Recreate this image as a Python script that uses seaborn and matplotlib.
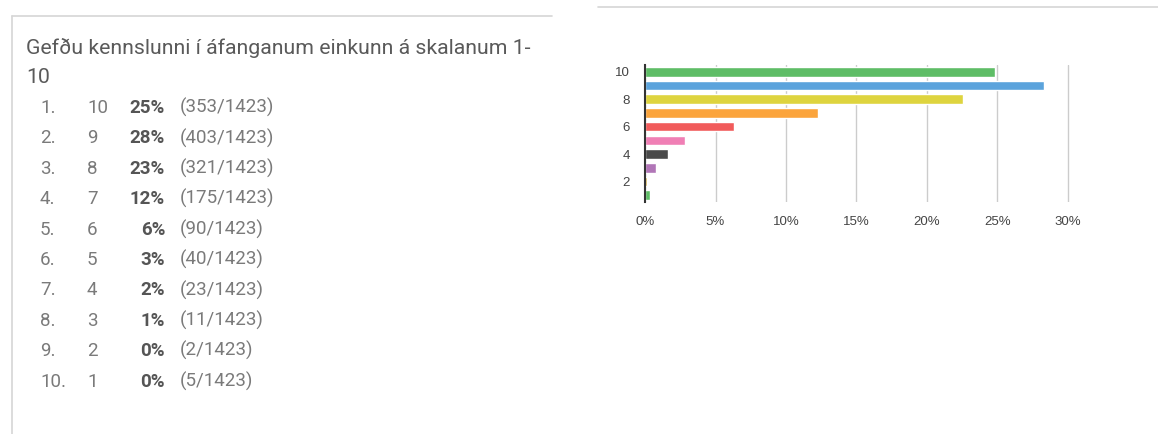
import pandas as pd
import matplotlib.pyplot as plt
import seaborn as sns
from matplotlib.lines import Line2D

# survey answers (grade 10 down to 1)
grades = ["10", "9", "8", "7", "6", "5", "4", "3", "2", "1"]
counts = [353, 403, 321, 175, 90, 40, 23, 11, 2, 5]
percent_labels = ["25%", "28%", "23%", "12%", "6%", "3%", "2%", "1%", "0%", "0%"]
total = 1423
bar_colors = ["#5ebd66", "#5ba3dc", "#ded43f", "#fba43c", "#f15b5b",
              "#f07fb5", "#4a4a4a", "#b176b7", "#d1a838", "#5ebd66"]
x_ticks = [0, 5, 10, 15, 20, 25, 30]
y_labels_shown = ["10", "8", "6", "4", "2"]
title_lines = ["Gefðu kennslunni í áfanganum einkunn á skalanum 1-", "10"]

W, H = 1158, 434

df = pd.DataFrame({"grade": grades, "count": counts})
df["pct"] = df["count"] / total * 100

sns.set_style("white")
plt.rcParams["font.family"] = ["Roboto", "DejaVu Sans"]

fig = plt.figure(figsize=(W / 100, H / 100), dpi=100)


def fx(px):
    return px / W


def fy(py):
    return 1 - py / H


# panel borders
fig.add_artist(Line2D([fx(12), fx(552)], [fy(16), fy(16)], color="#d6d6d6", lw=1.2))
fig.add_artist(Line2D([fx(12), fx(12)], [fy(16), fy(434)], color="#d6d6d6", lw=1.2))
fig.add_artist(Line2D([fx(598), fx(1158)], [fy(7), fy(7)], color="#d6d6d6", lw=1.2))

# left text list
for k, line in enumerate(title_lines):
    fig.text(fx(26), fy(54 + k * 29), line, fontsize=15.3, color="#5a5a5a",
             va="baseline", ha="left")

row_y0, row_step = 113, 30.4
for i, (g, c, p) in enumerate(zip(grades, counts, percent_labels)):
    y = fy(row_y0 + i * row_step)
    fig.text(fx(40), y, f"{i + 1}.", fontsize=13.5, color="#7a7a7a", va="baseline")
    fig.text(fx(87), y, g, fontsize=13.5, color="#7a7a7a", va="baseline")
    fig.text(fx(165), y, p, fontsize=13.5, color="#555555", va="baseline",
             ha="right", fontweight="bold")
    fig.text(fx(180), y, f"({c}/{total})", fontsize=13.5, color="#7a7a7a",
             va="baseline")

# bar chart
px_per_pct = (1068 - 645) / 30
x_max = 30.4
ax = fig.add_axes([fx(645), fy(202), x_max * px_per_pct / W, (202 - 65) / H])
sns.barplot(data=df, y="grade", x="pct", hue="grade", palette=bar_colors,
            order=grades, hue_order=grades, orient="h", width=0.7,
            legend=False, ax=ax, saturation=1)

ax.set_xlim(0, x_max)
ax.set_ylim(9.5, -0.5)
ax.set_xticks(x_ticks)
ax.set_xticklabels([f"{t}%" for t in x_ticks], family="Liberation Sans",
                   fontsize=9.5, color="#444444")
ax.set_yticks([grades.index(g) for g in y_labels_shown])
ax.set_yticklabels(y_labels_shown, family="Liberation Sans",
                   fontsize=9.5, color="#444444")
ax.tick_params(axis="x", length=0, pad=10)
ax.tick_params(axis="y", length=0, pad=11)
ax.set_xlabel("")
ax.set_ylabel("")
ax.grid(axis="x", color="#cccccc", lw=1)
ax.set_axisbelow(True)
for side in ["top", "right", "bottom"]:
    ax.spines[side].set_visible(False)
ax.spines["left"].set_color("#333333")
ax.spines["left"].set_linewidth(1.5)
ax.spines["left"].set_zorder(5)

fig.savefig("out.png", dpi=100)
